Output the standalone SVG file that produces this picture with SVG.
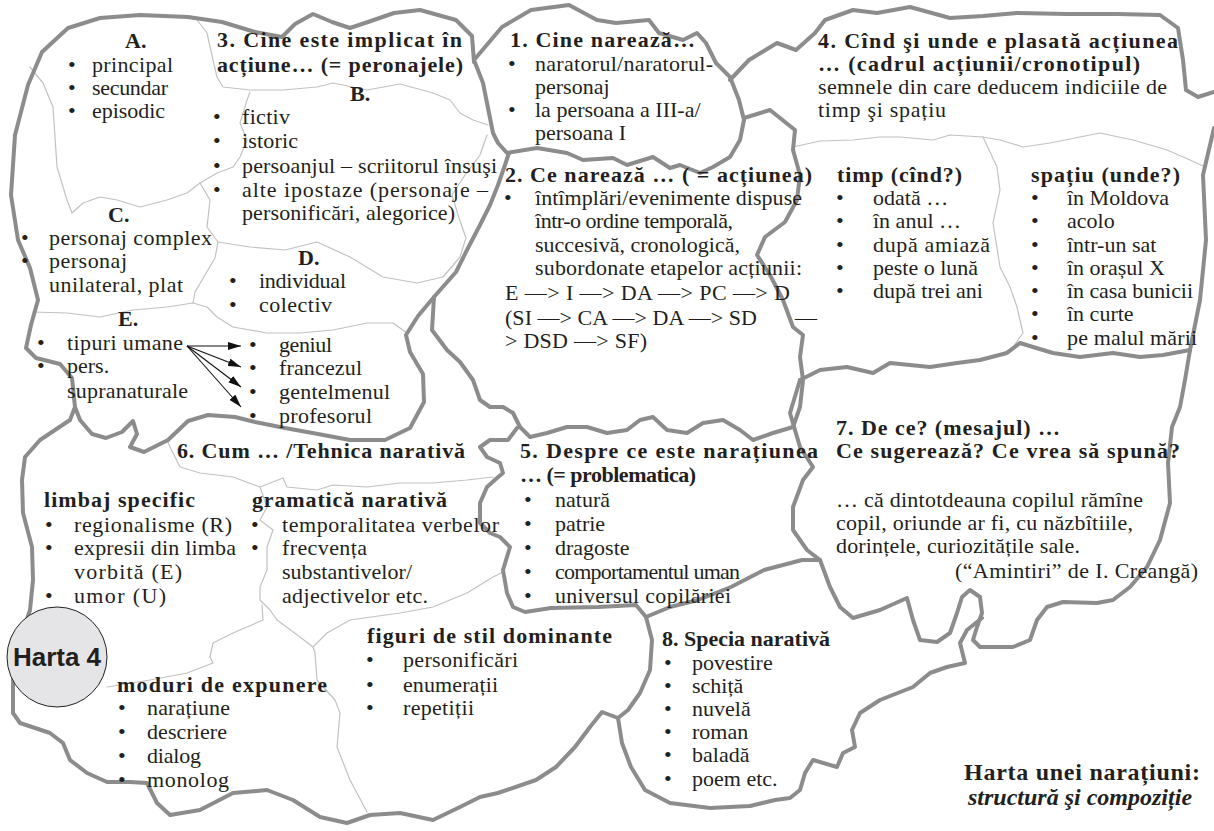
<svg xmlns="http://www.w3.org/2000/svg" width="1214" height="831" viewBox="0 0 1214 831">
<style>
.thick{fill:none;stroke:#8c8c8c;stroke-width:4;stroke-linejoin:round;stroke-linecap:round}
.thin{fill:none;stroke:#c2c2c2;stroke-width:1.2;stroke-linejoin:round;stroke-linecap:round}
text{font-family:"Liberation Serif","Times New Roman",serif;font-size:22px;fill:#231f20}
.b{font-weight:bold}
.arr{stroke:#111;stroke-width:1.1;fill:none}
</style>
<defs>
<marker id="ah" markerWidth="13" markerHeight="8" refX="13" refY="4" orient="auto" markerUnits="userSpaceOnUse">
<path d="M0,0 L13,4 L0,8 Z" fill="#111"/>
</marker>
</defs>
<rect width="1214" height="831" fill="#fff"/>
<g id="connectors">
<path class="thin" d="M197,20 L207,33 L213,60 L217,77 L223,87 L250,90 L283,90 L317,87 L333,83 L367,90 L400,84 L433,93 L450,100 L460,113 L473,120 L488,125"/>
<path class="thin" d="M250,92 L247,100 L240,123 L247,140 L240,157 L233,167 L217,173 L200,183 L187,193 L167,200 L140,207 L117,200 L100,197 L83,203 L72,213 L67,200 L57,167 L53,107 L43,83 L30,67"/>
<path class="thin" d="M200,183 L210,200 L207,227 L218,242 L215,258 L205,275 L195,292 L193,303"/>
<path class="thin" d="M33,312 L67,313 L100,317 L133,310 L167,307 L193,303 L207,307 L217,317 L233,327 L267,333 L300,333 L333,330 L367,323 L393,323 L407,333"/>
<path class="thin" d="M218,242 L250,247 L285,250 L317,242 L350,257 L383,277 L417,283 L443,277 L460,257 L466,238 L458,215 L452,195 L465,175 L480,155 L487,135"/>
<path class="thin" d="M167,440 L170,447 L180,467 L200,473 L233,477 L260,487 L283,478 L287,487 L317,490 L333,485 L367,487 L400,483 L433,483 L467,480 L493,477"/>
<path class="thin" d="M260,487 L267,507 L260,520 L273,530 L267,547 L267,570 L260,587 L260,600 L270,610 L277,620"/>
<path class="thin" d="M262,605 L263,620 L233,633 L213,643 L210,657 L213,663 L187,673 L150,680 L107,687"/>
<path class="thin" d="M277,620 L300,637 L313,647 L327,633 L350,620 L400,613 L433,607 L467,593 L493,577 L503,572"/>
<path class="thin" d="M313,647 L315,653 L317,680 L335,700 L340,713 L337,747 L350,780 L367,812"/>
<path class="thin" d="M793,147 L820,141 L853,140 L880,137 L900,137 L933,140 L950,135 L983,137 L1000,140 L1023,147 L1050,143 L1100,133 L1133,140 L1167,150 L1190,160 L1205,167"/>
<path class="thin" d="M983,137 L997,167 L1000,190 L993,223 L1000,267 L1010,287 L1017,307 L1023,333 L1013,347 L1000,355"/>
<path class="thick" d="M474,62 L472,36 L456,20 L420,10 L394,13 L368,22 L350,28 L332,22 L313,14 L295,24 L282,37 L255,32 L222,22 L188,17 L140,15 L100,18 L68,28 L42,52 L28,85 L15,135 L11,195 L18,240 L30,268 L38,300 L31,325 L26,348 L36,358 L60,364 L72,378 L75,407 L80,420 L92,434 L106,438 L122,432 L133,421 L137,434 L130,447 L144,452 L168,440 L188,421 L208,415 L235,417 L255,422 L285,428 L318,434 L350,440 L385,440 L410,428 L424,402 L423,374 L410,352 L406,335 L418,316 L434,297 L456,272 L468,248 L480,225 L490,205 L498,185 L505,165 L509,153"/>
<path class="thick" d="M434,297 L432,330 L447,350 L460,362 L473,380 L480,400 L490,407 L503,407 L513,413 L520,427 L530,437 L547,433 L567,427 L587,427 L607,433 L627,430 L640,420 L653,417 L667,430 L687,433 L703,423 L723,420 L740,430 L753,440 L773,433 L793,427 L800,407 L803,380 L800,357 L803,335 L793,327 L783,300 L770,275 L757,255 L765,237 L785,222 L797,200 L800,175 L793,150 L795,130 L770,110 L744,118"/>
<path class="thick" d="M517,428 L508,440 L490,440 L480,447 L487,457 L500,463 L503,473 L497,478 L487,487 L480,503 L480,523 L490,533 L500,537 L510,547 L503,570 L507,593 L513,607 L525,612 L551,608 L598,607 L636,605 L646,617 L670,607 L698,600 L731,587 L764,570 L802,560 L820,560"/>
<path class="thick" d="M800,380 L790,413 L800,447 L813,467 L803,480 L793,507 L793,530 L807,550 L820,560 L830,587 L840,607 L853,618 L880,610 L907,598 L913,620 L920,640 L937,642 L950,633 L957,613 L962,597 L970,590 L980,597 L982,613 L977,627 L973,640 L980,647 L1013,647 L1030,640 L1037,620 L1047,607 L1063,602 L1097,603 L1113,600 L1130,587 L1147,567 L1160,540 L1170,503 L1168,463 L1172,427 L1180,407 L1185,380 L1190,350 L1200,300 L1206,240 L1203,175 L1214,128"/>
<path class="thick" d="M800,380 L820,370 L847,367 L873,373 L890,363 L930,367 L957,363 L980,360 L1007,353 L1020,343 L1033,347 L1053,353 L1080,357 L1113,353 L1140,357 L1163,355 L1190,350"/>
<path class="thick" d="M646,617 L652,640 L650,670 L640,693 L628,710 L618,718 L622,743 L631,767 L645,790 L670,803 L710,808 L750,806 L775,800 L790,798 L800,790 L805,773 L813,760 L837,767 L843,753 L855,747 L852,730 L860,713 L880,700 L913,687 L930,673 L947,667 L965,663 L960,643 L967,630 L982,618"/>
<path class="thick" d="M75,407 L70,420 L40,440 L25,457 L22,480 L23,513 L32,547 L33,580 L30,610 L20,640 L13,677 L13,713 L20,723 L50,733 L63,743 L70,760 L87,773 L107,782 L130,782 L147,783 L157,803 L170,815 L200,810 L233,793 L267,790 L293,800 L320,817 L347,823 L370,815 L400,813 L433,820 L460,807 L480,797 L498,793 L536,780 L556,767 L575,747 L590,727 L602,712 L618,718"/>
<path class="thick" d="M474,60 L483,83 L493,133 L498,143 L507,153 L537,148 L567,153 L583,160 L613,158 L627,165 L653,157 L670,168 L680,165 L700,173 L713,167 L730,157 L740,140 L744,120 L739,100 L730,77 L716,63 L706,43 L697,33 L683,40 L659,33 L649,20 L616,23 L597,20 L569,5 L531,10 L502,27 Z"/>
<path class="thick" d="M730,80 L749,60 L777,43 L796,50 L815,33 L825,20 L853,10 L877,13 L910,7 L950,18 L983,16 L1017,13 L1067,14 L1117,14 L1160,15 L1178,28 L1183,60 L1186,90 L1198,97 L1214,92"/>
<g id="arrows">
<line class="arr" x1="187" y1="346" x2="241" y2="346" marker-end="url(#ah)"/>
<line class="arr" x1="187" y1="346" x2="241" y2="367" marker-end="url(#ah)"/>
<line class="arr" x1="187" y1="346" x2="241" y2="387" marker-end="url(#ah)"/>
<line class="arr" x1="187" y1="346" x2="241" y2="407" marker-end="url(#ah)"/>
</g>
</g>
<g id="nodeA">
<text class="b" x="125" y="48">A.</text>
<text x="68" y="72">•</text><text x="92" y="72" textLength="81">principal</text>
<text x="68" y="95">•</text><text x="92" y="95" textLength="76">secundar</text>
<text x="68" y="118">•</text><text x="92" y="118" textLength="73">episodic</text>
</g>
<g id="node3">
<text class="b" x="217" y="47" textLength="245">3. Cine este implicat în</text>
<text class="b" x="217" y="72" textLength="246">acțiune… (= peronajele)</text>
<text class="b" x="350" y="101">B.</text>
<text x="213" y="124">•</text><text x="242" y="124" textLength="48">fictiv</text>
<text x="213" y="148">•</text><text x="242" y="148" textLength="56">istoric</text>
<text x="213" y="173">•</text><text x="242" y="173" textLength="255">persoanjul – scriitorul însuşi</text>
<text x="213" y="197">•</text><text x="242" y="197" textLength="246">alte ipostaze (personaje –</text>
<text x="242" y="220" textLength="213">personificări, alegorice)</text>
</g>
<g id="nodeC">
<text class="b" x="108" y="222">C.</text>
<text x="21" y="245">•</text><text x="49" y="245" textLength="163">personaj complex</text>
<text x="21" y="268">•</text><text x="49" y="268" textLength="78">personaj</text>
<text x="49" y="292" textLength="134">unilateral, plat</text>
</g>
<g id="nodeD">
<text class="b" x="298" y="265">D.</text>
<text x="229" y="288">•</text><text x="259" y="288" textLength="87">individual</text>
<text x="229" y="312">•</text><text x="259" y="312" textLength="73">colectiv</text>
</g>
<g id="nodeE">
<text class="b" x="118" y="326">E.</text>
<text x="37" y="350">•</text><text x="67" y="350" textLength="116">tipuri umane</text>
<text x="37" y="373">•</text><text x="67" y="373">pers.</text>
<text x="67" y="398" textLength="121">supranaturale</text>
<text x="249" y="352">•</text><text x="279" y="352" textLength="53">geniul</text>
<text x="249" y="375">•</text><text x="279" y="375" textLength="83">francezul</text>
<text x="249" y="399">•</text><text x="279" y="399" textLength="111">gentelmenul</text>
<text x="249" y="423">•</text><text x="279" y="423" textLength="93">profesorul</text>
</g>
<g id="node1">
<text class="b" x="510" y="47" textLength="185">1. Cine narează…</text>
<text x="508" y="71">•</text><text x="535" y="71" textLength="178">naratorul/naratorul-</text>
<text x="535" y="94">personaj</text>
<text x="508" y="117">•</text><text x="535" y="117">la persoana a III-a/</text>
<text x="535" y="140">persoana I</text>
</g>
<g id="node2">
<text class="b" x="505" y="182" textLength="307">2. Ce narează … ( = acțiunea)</text>
<text x="504" y="205">•</text><text x="535" y="205" textLength="267">întîmplări/evenimente dispuse</text>
<text x="535" y="228" textLength="198">într-o ordine temporală,</text>
<text x="535" y="252" textLength="205">succesivă, cronologică,</text>
<text x="535" y="275" textLength="267">subordonate etapelor acțiunii:</text>
<text x="505" y="300" textLength="285">E —&gt; I —&gt; DA —&gt; PC —&gt; D</text>
<text x="505" y="325" textLength="252">(SI —&gt; CA —&gt; DA —&gt; SD</text>
<text x="795" y="325">—</text>
<text x="505" y="348" textLength="142">&gt; DSD  —&gt; SF)</text>
</g>
<g id="node4">
<text class="b" x="818" y="48" textLength="360">4. Cînd şi unde e plasată acțiunea</text>
<text class="b" x="818" y="71" textLength="322">… (cadrul acțiunii/cronotipul)</text>
<text x="818" y="94" textLength="349">semnele din care deducem indiciile de</text>
<text x="818" y="117" textLength="128">timp şi spațiu</text>
</g>
<g id="nodeTimp">
<text class="b" x="837" y="182" textLength="125">timp (cînd?)</text>
<text x="836" y="205">•</text><text x="873" y="205">odată …</text>
<text x="836" y="228">•</text><text x="873" y="228">în anul …</text>
<text x="836" y="252">•</text><text x="873" y="252" textLength="117">după amiază</text>
<text x="836" y="275">•</text><text x="873" y="275">peste o lună</text>
<text x="836" y="298">•</text><text x="873" y="298">după trei ani</text>
</g>
<g id="nodeSpatiu">
<text class="b" x="1031" y="182" textLength="149">spațiu (unde?)</text>
<text x="1031" y="205">•</text><text x="1067" y="205">în Moldova</text>
<text x="1031" y="228">•</text><text x="1067" y="228">acolo</text>
<text x="1031" y="252">•</text><text x="1067" y="252">într-un sat</text>
<text x="1031" y="275">•</text><text x="1067" y="275">în orașul X</text>
<text x="1031" y="298">•</text><text x="1067" y="298" textLength="126">în casa bunicii</text>
<text x="1031" y="321">•</text><text x="1067" y="321">în curte</text>
<text x="1031" y="345">•</text><text x="1067" y="345" textLength="130">pe malul mării</text>
</g>
<g id="node6">
<text class="b" x="177" y="458" textLength="288">6. Cum … /Tehnica narativă</text>
<text class="b" x="44" y="507" textLength="151">limbaj specific</text>
<text class="b" x="252" y="507" textLength="195">gramatică narativă</text>
<text x="45" y="532">•</text><text x="74" y="532" textLength="158">regionalisme (R)</text>
<text x="45" y="555">•</text><text x="74" y="555" textLength="162">expresii din limba</text>
<text x="74" y="579" textLength="108">vorbită (E)</text>
<text x="45" y="603">•</text><text x="74" y="603" textLength="92">umor (U)</text>
<text x="251" y="532">•</text><text x="282" y="532" textLength="217">temporalitatea verbelor</text>
<text x="251" y="555">•</text><text x="282" y="555" textLength="85">frecvența</text>
<text x="282" y="579" textLength="130">substantivelor/</text>
<text x="282" y="603" textLength="146">adjectivelor etc.</text>
<text class="b" x="117" y="692" textLength="210">moduri de expunere</text>
<text x="118" y="715">•</text><text x="147" y="715" textLength="83">narațiune</text>
<text x="118" y="739">•</text><text x="147" y="739" textLength="80">descriere</text>
<text x="118" y="763">•</text><text x="147" y="763" textLength="54">dialog</text>
<text x="118" y="787">•</text><text x="147" y="787" textLength="82">monolog</text>
<text class="b" x="367" y="643" textLength="245">figuri de stil dominante</text>
<text x="366" y="667">•</text><text x="403" y="667" textLength="115">personificări</text>
<text x="366" y="692">•</text><text x="403" y="692" textLength="95">enumerații</text>
<text x="366" y="715">•</text><text x="403" y="715" textLength="71">repetiții</text>
</g>
<g id="node5">
<text class="b" x="520" y="458" textLength="298">5. Despre ce este narațiunea</text>
<text class="b" x="520" y="482" textLength="176">… (= problematica)</text>
<text x="524" y="507">•</text><text x="555" y="507">natură</text>
<text x="524" y="531">•</text><text x="555" y="531">patrie</text>
<text x="524" y="555">•</text><text x="555" y="555">dragoste</text>
<text x="524" y="579">•</text><text x="555" y="579" textLength="185">comportamentul uman</text>
<text x="524" y="603">•</text><text x="555" y="603" textLength="176">universul copilăriei</text>
</g>
<g id="node7">
<text class="b" x="836" y="435" textLength="224">7. De ce? (mesajul) …</text>
<text class="b" x="836" y="458" textLength="344">Ce sugerează? Ce vrea să spună?</text>
<text x="836" y="507" textLength="307">… că dintotdeauna copilul rămîne</text>
<text x="836" y="530" textLength="297">copil, oriunde ar fi, cu năzbîtiile,</text>
<text x="836" y="553" textLength="244">dorințele, curiozitățile sale.</text>
<text x="955" y="578" textLength="243">(“Amintiri” de I. Creangă)</text>
</g>
<g id="node8">
<text class="b" x="662" y="646">8. Specia narativă</text>
<text x="664" y="670">•</text><text x="692" y="670">povestire</text>
<text x="664" y="693">•</text><text x="692" y="693">schiță</text>
<text x="664" y="716">•</text><text x="692" y="716">nuvelă</text>
<text x="664" y="739">•</text><text x="692" y="739">roman</text>
<text x="664" y="762">•</text><text x="692" y="762">baladă</text>
<text x="664" y="786">•</text><text x="692" y="786">poem etc.</text>
</g>
<g id="harta4">
<circle cx="57" cy="657" r="50" fill="#e5e5e7" stroke="#222" stroke-width="1"/>
<text x="57" y="666" text-anchor="middle" style="font-family:'Liberation Sans',Arial,sans-serif;font-weight:bold;font-size:26px">Harta 4</text>
</g>
<g id="title">
<text class="b" x="964" y="780" textLength="236" style="font-size:24px">Harta unei narațiuni:</text>
<text class="b" x="968" y="805" style="font-size:24px;font-style:italic">structură şi compoziție</text>
</g>
</svg>
